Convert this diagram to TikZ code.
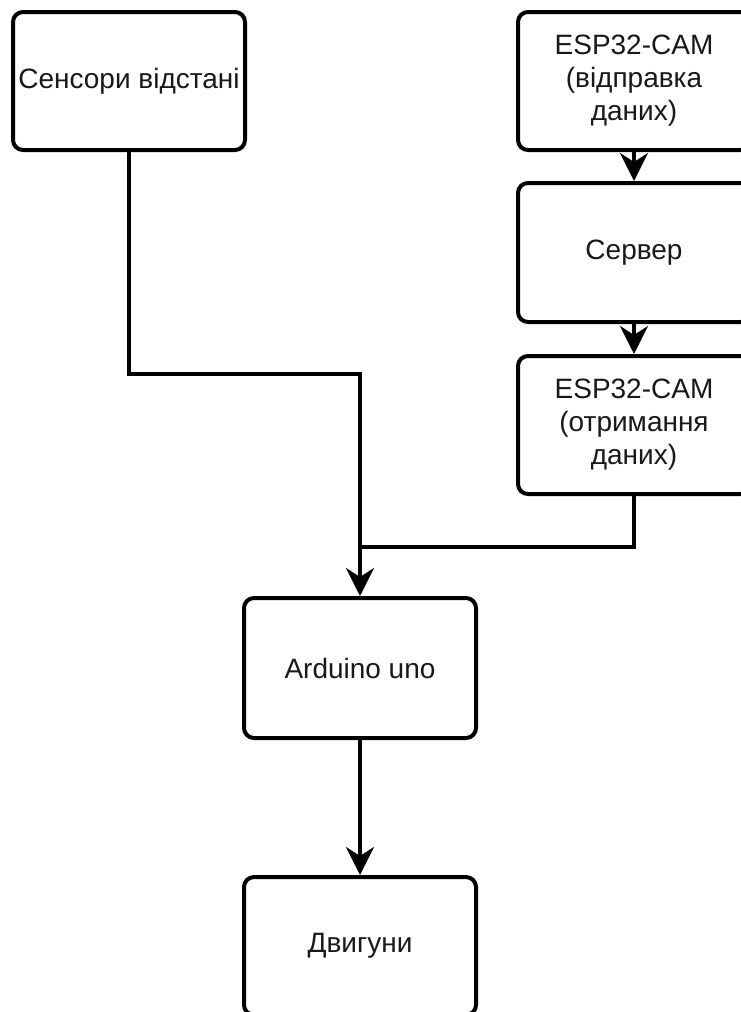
\documentclass[tikz,border=0pt]{standalone}
\usepackage{fontspec}
\setmainfont{Liberation Sans}
\usetikzlibrary{arrows.meta}
\begin{document}
\begin{tikzpicture}[x=1pt,y=-1pt,
  box/.style={draw=black, line width=4pt, rounded corners=10pt, fill=white,
    minimum width=232pt, minimum height=138pt, inner sep=0pt, align=center,
    font=\fontsize{28}{33}\selectfont, text=black!90},
  conn/.style={draw=black, line width=4pt},
  arr/.style={conn, -{Stealth[length=28pt,width=28pt,inset=9pt]}}]
\useasboundingbox (0,0) rectangle (741,1012);
\clip (0,0) rectangle (741,1012);
\node[box] (sens) at (129,81) {Сенсори відстані};
\node[box] (send) at (634,81) {ESP32-CAM\\(відправка\\даних)};
\node[box, minimum height=139pt] (serv) at (634,252.5) {Сервер};
\node[box] (recv) at (634,425) {ESP32-CAM\\(отримання\\даних)};
\node[box, minimum height=140pt] (ard) at (360,668) {Arduino uno};
\node[box] (mot) at (360,946) {Двигуни};
\coordinate (bendL) at (360,374);
\coordinate (joinR) at (360,547);
\draw[arr] (sens.south) |- (bendL) -- (ard.north);
\draw[conn] (recv.south) |- (joinR);
\draw[arr] (send.south) -- (serv.north);
\draw[arr] (serv.south) -- (recv.north);
\draw[arr] (ard.south) -- (mot.north);
\end{tikzpicture}
\end{document}
